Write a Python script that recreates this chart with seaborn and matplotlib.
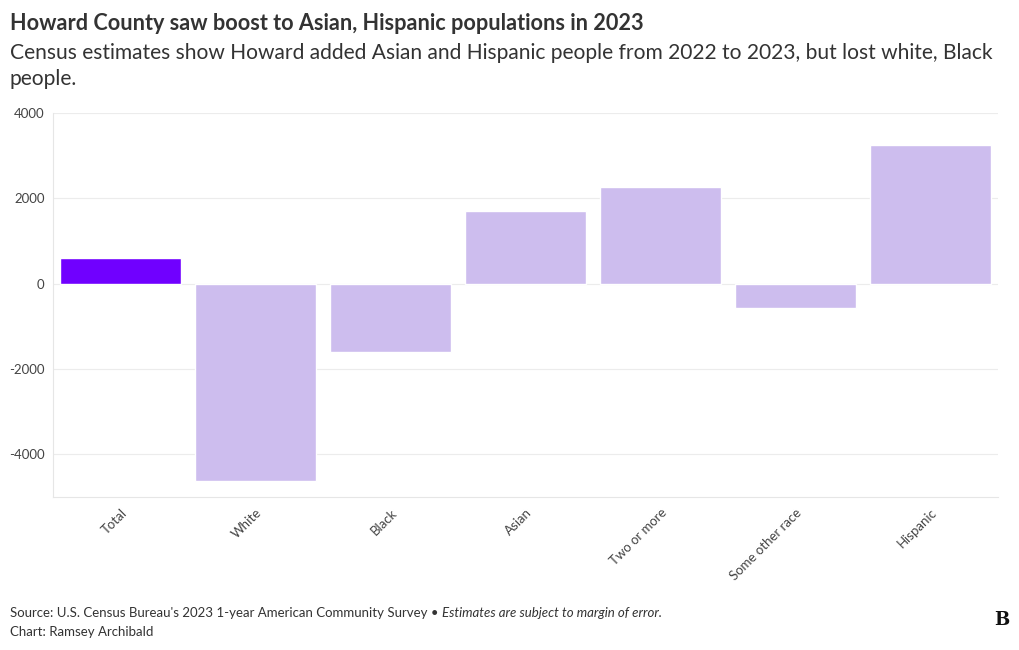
import matplotlib
matplotlib.use("Agg")
import matplotlib.pyplot as plt
import seaborn as sns
import pandas as pd

# Change in population, 2022 to 2023
groups = ['Total', 'White', 'Black', 'Asian', 'Two or more', 'Some other race', 'Hispanic']
change = [590, -4630, -1590, 1710, 2260, -560, 3250]
bar_colors = ['#7000ff', '#cdbdee', '#cdbdee', '#cdbdee', '#cdbdee', '#cdbdee', '#cdbdee']
y_ticks = [-4000, -2000, 0, 2000, 4000]

df = pd.DataFrame({'group': groups, 'change': change})

sns.set_theme(style="white")
plt.rcParams['font.family'] = ['Lato', 'DejaVu Sans']

fig = plt.figure(figsize=(10.2, 6.5), dpi=100)
ax = fig.add_axes([53 / 1020, 1 - 497 / 650, 945 / 1020, 384 / 650])

sns.barplot(data=df, x='group', y='change', hue='group', palette=bar_colors,
            legend=False, width=0.9, saturation=1, ax=ax)

ax.set_xlim(-0.5, 6.5)
ax.set_ylim(-5000, 4000)
ax.set_yticks(y_ticks)
ax.set_yticklabels([str(t) for t in y_ticks], fontsize=9.5, color='#444444')
ax.grid(axis='y', color='#ececec', linewidth=0.8)
ax.set_axisbelow(True)
ax.set_xlabel('')
ax.set_ylabel('')
for side in ['top', 'right']:
    ax.spines[side].set_visible(False)
for side in ['left', 'bottom']:
    ax.spines[side].set_color('#e6e6e6')
    ax.spines[side].set_linewidth(0.8)
ax.tick_params(axis='x', length=4, color='#e6e6e6', pad=3)
ax.tick_params(axis='y', length=4, color='#e6e6e6', pad=2)
plt.setp(ax.get_xticklabels(), rotation=45, ha='right', rotation_mode='anchor',
         fontsize=9.5, color='#444444')

fig.text(10 / 1020, 1 - 24 / 650, 'Howard County saw boost to Asian, Hispanic populations in 2023',
         fontsize=15.6, fontweight='bold', color='#333333', va='center', ha='left')
fig.text(10 / 1020, 1 - 66 / 650,
         'Census estimates show Howard added Asian and Hispanic people from 2022 to 2023, but lost white, Black\npeople.',
         fontsize=15.1, color='#333333', va='center', ha='left', linespacing=1.35)

fig.text(10 / 1020, 1 - 613 / 650,
         "Source: U.S. Census Bureau's 2023 1-year American Community Survey \u2022 ",
         fontsize=9.5, color='#333333', va='center', ha='left')
src = fig.texts[-1]
fig.canvas.draw()
bb = src.get_window_extent()
fig.text(bb.x1 / 1020, 1 - 613 / 650, 'Estimates are subject to margin of error.',
         fontsize=9.5, style='italic', color='#333333', va='center', ha='left')
fig.text(10 / 1020, 1 - 632 / 650, 'Chart: Ramsey Archibald',
         fontsize=9.5, color='#333333', va='center', ha='left')
fig.text(1002 / 1020, 1 - 620 / 650, 'B', fontsize=13, fontweight='bold',
         family='DejaVu Serif', color='#111111', va='center', ha='center')

fig.savefig('out.png', dpi=100)
